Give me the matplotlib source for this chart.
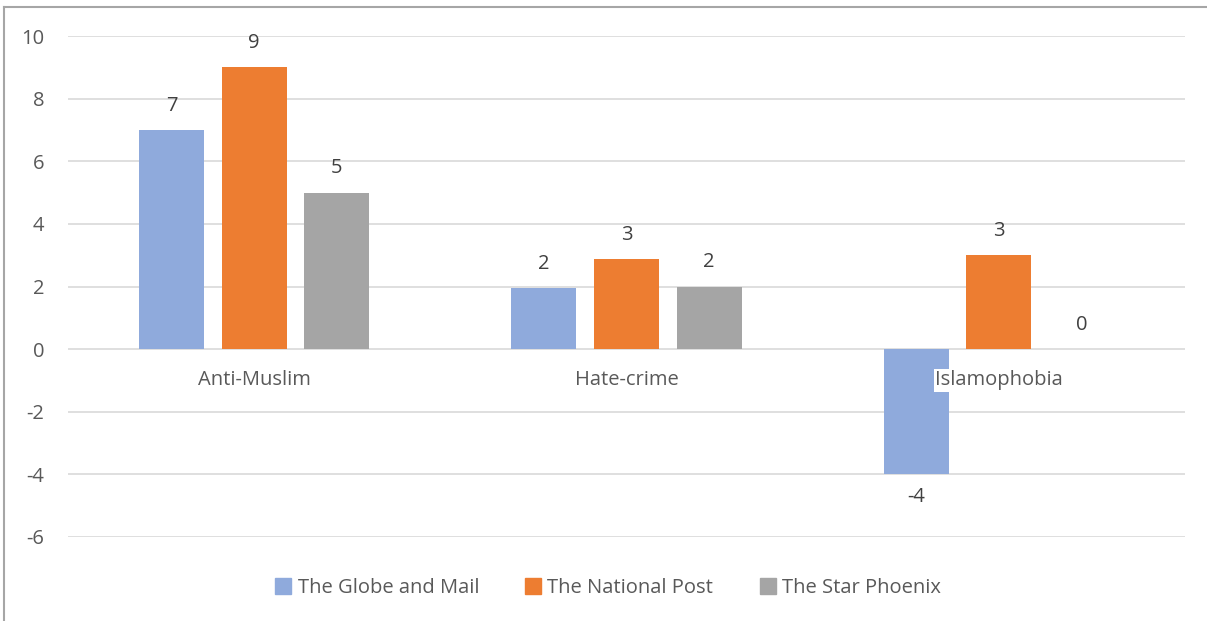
import numpy as np
import matplotlib.pyplot as plt
from matplotlib.lines import Line2D

# data
categories = ["Anti-Muslim", "Hate-crime", "Islamophobia"]
series_names = ["The Globe and Mail", "The National Post", "The Star Phoenix"]
globe = [7, 1.95, -4]
national = [9, 2.87, 3]
star = [5, 2.0, 0]
value_labels = [["7", "2", "-4"], ["9", "3", "3"], ["5", "2", "0"]]
yticks = [-6, -4, -2, 0, 2, 4, 6, 8, 10]

colors = ["#8FAADC", "#ED7D31", "#A5A5A5"]
text_color = "#595959"
fs = 14.5
plt.rcParams['font.family'] = ['Open Sans', 'DejaVu Sans']

fig = plt.figure(figsize=(12.07, 6.21), dpi=100)
ax = fig.add_axes([68/1207, 1 - 537/621, (1185 - 68)/1207, (537 - 36)/621])

x = np.arange(len(categories))
width = 0.175
step = 0.222
all_series = [globe, national, star]
for i, vals in enumerate(all_series):
    pos = x + (i - 1) * step
    ax.bar(pos, vals, width, color=colors[i], zorder=3)
    for p, v, lab in zip(pos, vals, value_labels[i]):
        if v < 0:
            ax.text(p, v - 0.4, lab, ha="center", va="top", fontsize=fs, color="#404040")
        else:
            ax.text(p, v + 0.45, lab, ha="center", va="bottom", fontsize=fs, color="#404040")

# category labels sit just under the zero line
for xi, cat in zip(x, categories):
    bbox = dict(facecolor="white", edgecolor="none", pad=1) if cat == "Islamophobia" else None
    ax.text(xi, -1.0, cat, ha="center", va="center",
            fontsize=fs, color=text_color, bbox=bbox, zorder=5)

ax.set_xlim(-0.5, 2.5)
ax.set_ylim(-6, 10)
ax.set_yticks(yticks)
ax.set_yticklabels([str(t) for t in yticks])
ax.set_xticks([])
ax.tick_params(axis="y", length=0, pad=17, labelsize=fs, labelcolor=text_color)
ax.grid(axis="y", color="#D9D9D9", linewidth=1.2, zorder=0)
for s in ax.spines.values():
    s.set_visible(False)

handles = [Line2D([], [], marker="s", linestyle="none", markersize=11,
                  markerfacecolor=c, markeredgecolor=c) for c in colors]
fig.legend(handles, series_names, loc="center", bbox_to_anchor=(605/1207, 1 - 588/621),
           ncol=3, frameon=False, fontsize=fs, labelcolor=text_color,
           handletextpad=0.0, handlelength=1.4, columnspacing=2.0)

# frame of the cropped chart area
fig.add_artist(Line2D([4/1207, 4/1207], [0, 1 - 7/621], color="#A6A6A6", linewidth=1.5))
fig.add_artist(Line2D([4/1207, 1], [1 - 7/621, 1 - 7/621], color="#A6A6A6", linewidth=1.5))

fig.savefig("out.png", dpi=100)
